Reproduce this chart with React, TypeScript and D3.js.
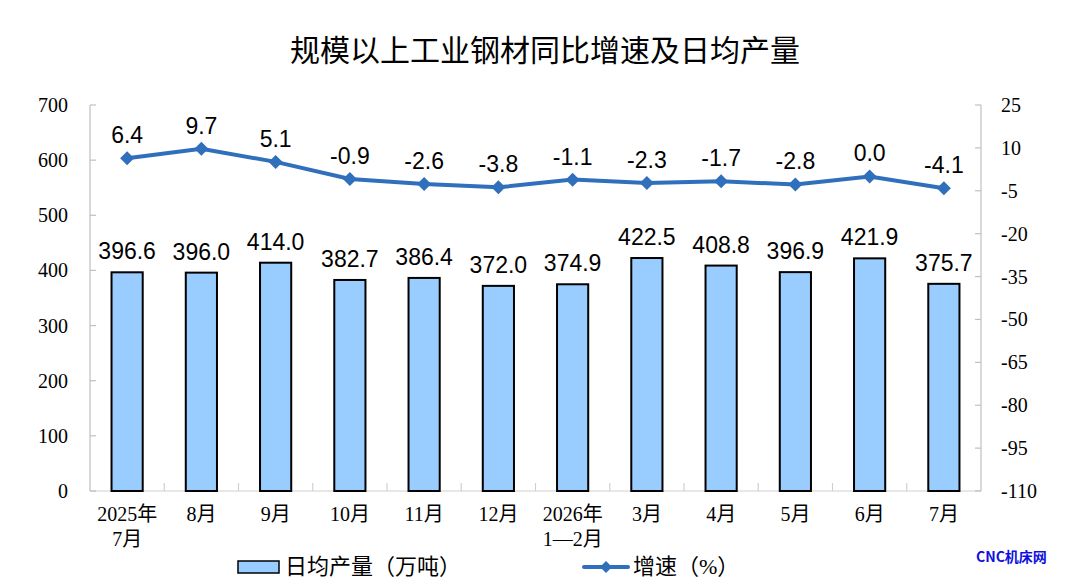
import React from "react";
import * as d3 from "d3";

const categories: string[][] = [
  ["2025年", "7月"], ["8月"], ["9月"], ["10月"], ["11月"], ["12月"],
  ["2026年", "1—2月"], ["3月"], ["4月"], ["5月"], ["6月"], ["7月"],
];
const output: number[] = [396.6, 396.0, 414.0, 382.7, 386.4, 372.0, 374.9, 422.5, 408.8, 396.9, 421.9, 375.7];
const growth: number[] = [6.4, 9.7, 5.1, -0.9, -2.6, -3.8, -1.1, -2.3, -1.7, -2.8, 0.0, -4.1];
const leftTicks: number[] = [0, 100, 200, 300, 400, 500, 600, 700];
const rightTicks: number[] = [-110, -95, -80, -65, -50, -35, -20, -5, 10, 25];
const title = "规模以上工业钢材同比增速及日均产量";
const legendBar = "日均产量（万吨）";
const legendLine = "增速（%）";

const W = 1080, H = 585;
const L = 90, R = 981, T = 105, B = 491;
const serif = "'Liberation Serif', 'Times New Roman', 'Noto Sans CJK SC', serif";
const sans = "'Liberation Sans', Arial, 'Noto Sans CJK SC', sans-serif";
const lineColor = "#2F6FBC";

export default function App() {
  const idx = categories.map((_, i) => String(i));
  const x = d3.scaleBand<string>().domain(idx).range([L, R]).paddingInner(0).paddingOuter(0);
  const yL = d3.scaleLinear().domain([0, 700]).range([B, T]);
  const yR = d3.scaleLinear().domain([-110, 25]).range([B, T]);
  const bw = x.bandwidth() * 0.42;
  const cx = (i: number) => (x(String(i)) as number) + x.bandwidth() / 2;
  const line = d3.line<number>().x((_, i) => cx(i)).y((d) => yR(d));
  const diamond = (px: number, py: number, s: number) =>
    `M${px},${py - s}L${px + s},${py}L${px},${py + s}L${px - s},${py}Z`;

  return (
    <svg width={W} height={H} style={{ position: "absolute", left: 0, top: 0, background: "#fff" }}>
      <text x={545} y={61} textAnchor="middle" fontFamily="'Noto Sans CJK SC', sans-serif" fontWeight={400} fontSize={30} fill="#000">
        {title}
      </text>

      {/* axes */}
      <line x1={L} x2={L} y1={T} y2={B} stroke="#BFBFBF" strokeWidth={1.2} />
      <line x1={R} x2={R} y1={T} y2={B} stroke="#BFBFBF" strokeWidth={1.2} />
      <line x1={L} x2={R} y1={B} y2={B} stroke="#D0D0D0" strokeWidth={1.2} />
      {leftTicks.map((t) => (
        <g key={"l" + t}>
          <line x1={L} x2={L + 6} y1={yL(t)} y2={yL(t)} stroke="#BFBFBF" strokeWidth={1.2} />
          <text x={68} y={yL(t) + 7} textAnchor="end" fontFamily={serif} fontSize={20} fill="#000">{t}</text>
        </g>
      ))}
      {rightTicks.map((t) => (
        <g key={"r" + t}>
          <line x1={R - 6} x2={R} y1={yR(t)} y2={yR(t)} stroke="#BFBFBF" strokeWidth={1.2} />
          <text x={1001} y={yR(t) + 7} textAnchor="start" fontFamily={serif} fontSize={20} fill="#000">{t}</text>
        </g>
      ))}
      {idx.slice(1).map((k) => (
        <line key={"xt" + k} x1={x(k) as number} x2={x(k) as number} y1={B - 8} y2={B} stroke="#D0D0D0" strokeWidth={1.2} />
      ))}

      {/* bars */}
      {output.map((v, i) => (
        <g key={"b" + i}>
          <rect x={cx(i) - bw / 2} y={yL(v)} width={bw} height={B - yL(v)} fill="#99CCFF" stroke="#000" strokeWidth={2} />
          <text x={cx(i)} y={yL(v) - 13} textAnchor="middle" fontFamily={sans} fontSize={23} fill="#000">{v.toFixed(1)}</text>
        </g>
      ))}

      {/* line */}
      <path d={line(growth) as string} fill="none" stroke={lineColor} strokeWidth={4} />
      {growth.map((v, i) => (
        <g key={"p" + i}>
          <path d={diamond(cx(i), yR(v), 7)} fill={lineColor} />
          <text x={cx(i)} y={yR(v) - 15} textAnchor="middle" fontFamily={sans} fontSize={23} fill="#000">{v.toFixed(1)}</text>
        </g>
      ))}

      {/* category labels */}
      {categories.map((c, i) => (
        <text key={"c" + i} x={cx(i)} y={521} textAnchor="middle" fontFamily={serif} fontSize={20} fill="#000">
          {c.map((s, j) => (
            <tspan key={j} x={cx(i)} dy={j === 0 ? 0 : 25}>{s}</tspan>
          ))}
        </text>
      ))}

      {/* legend */}
      <rect x={238} y={561} width={41} height={12} fill="#99CCFF" stroke="#000" strokeWidth={1.5} />
      <text x={285} y={574} fontFamily={serif} fontSize={22} fill="#000">{legendBar}</text>
      <line x1={584} x2={628} y1={567} y2={567} stroke={lineColor} strokeWidth={4} strokeLinecap="round" />
      <path d={diamond(606, 567, 6)} fill={lineColor} />
      <text x={633} y={574} fontFamily={serif} fontSize={22} fill="#000">{legendLine}</text>

      <text x={976} y={562} fontFamily="'Noto Sans CJK SC', sans-serif" fontWeight={700} fontSize={14} fill="#1010E0">CNC机床网</text>
    </svg>
  );
}
